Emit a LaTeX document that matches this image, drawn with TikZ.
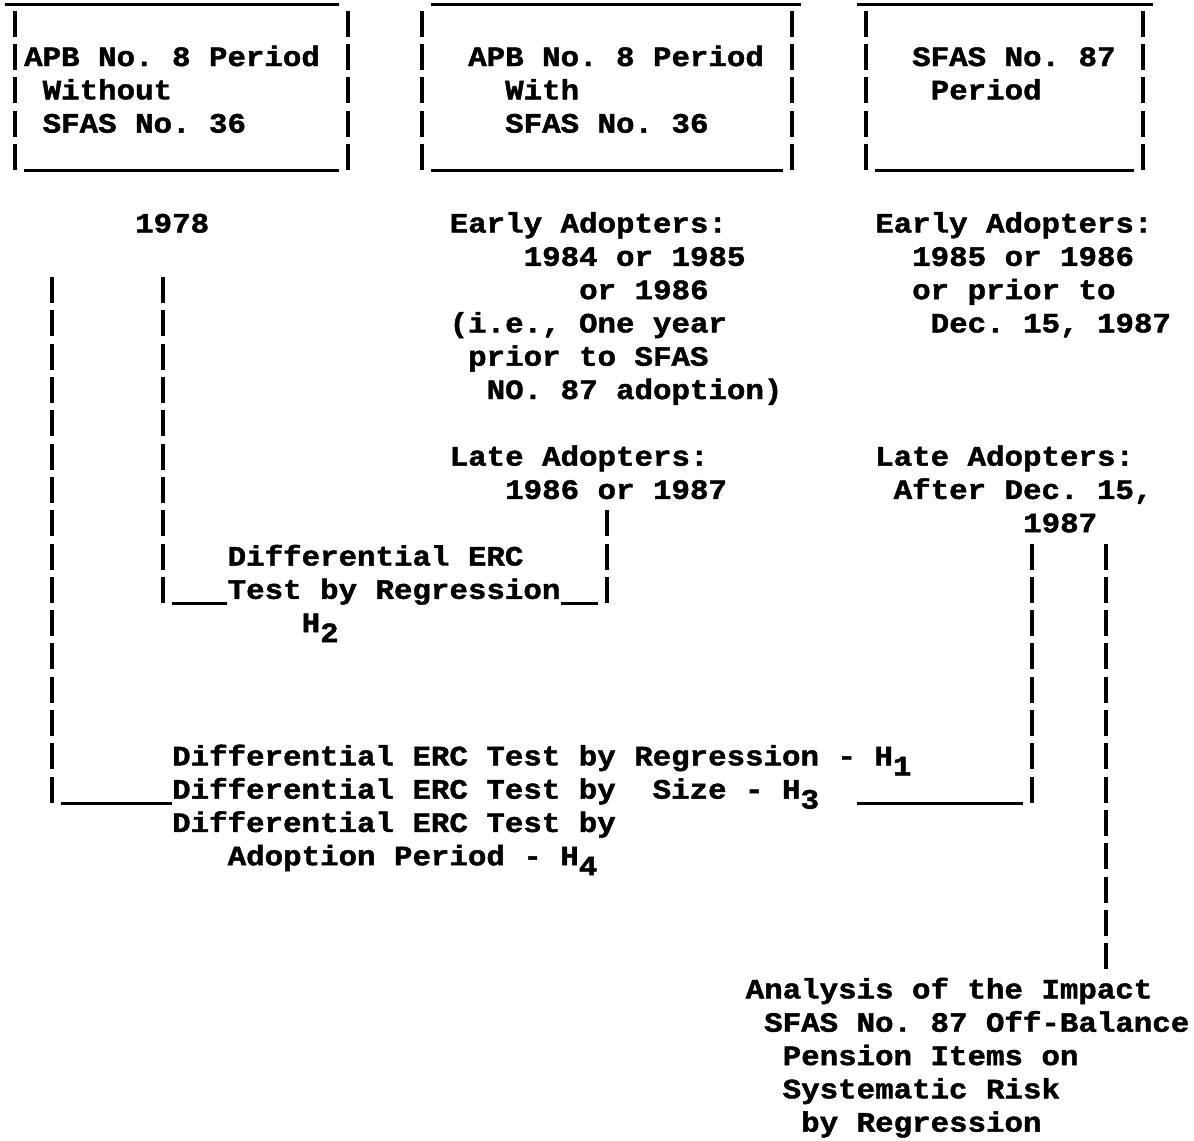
\documentclass[tikz,border=0pt]{standalone}
\usepackage{fontspec}
\setmainfont{Liberation Mono}[FakeStretch=1.1,BoldFeatures={FakeBold=1.6}]
\newcommand{\hsub}[1]{\raisebox{-10pt}{#1}}

\begin{document}
\begin{tikzpicture}[
  x=18.5pt,y=-33.3pt,
  typed/.style={anchor=base west,inner sep=0pt,yshift=-9pt,
    font=\fontsize{28pt}{33pt}\selectfont\bfseries\frenchspacing},
  bar/.style={draw=black,line width=3.8pt,dash pattern=on 26pt off 7.3pt},
  rule/.style={draw=black,line width=3pt},
]
  \useasboundingbox (-1.297,-1.712) rectangle (63.243,32.523);

  % period boxes: left bar/right bar/top from-to/bottom from-to (columns)
  \foreach \l/\r/\ta/\tb/\ba/\bb in {-1/17/-1/17/0/17,21/41/22/42/22/41,45/60/45/61/46/60}{
    \draw[rule] (\ta,-1.58) -- (\tb,-1.58);
    \draw[rule] (\ba,3.42) -- (\bb,3.42);
    \draw[bar] (\l+.5,-1.39) -- (\l+.5,3.39);
    \draw[bar] (\r+.5,-1.39) -- (\r+.5,3.39);
  }
  \node[typed] (apbA1) at (0,0) {APB No. 8 Period};
  \node[typed] (apbA2) at (1,1) {Without};
  \node[typed] (apbA3) at (1,2) {SFAS No. 36};
  \node[typed] (apbB1) at (24,0) {APB No. 8 Period};
  \node[typed] (apbB2) at (26,1) {With};
  \node[typed] (apbB3) at (26,2) {SFAS No. 36};
  \node[typed] (sfas1) at (48,0) {SFAS No. 87};
  \node[typed] (sfas2) at (49,1) {Period};

  % dates
  \node[typed] (yr) at (6,5) {1978};
  \node[typed] (midE1) at (23,5) {Early Adopters:};
  \node[typed] (midE2) at (27,6) {1984 or 1985};
  \node[typed] (midE3) at (30,7) {or 1986};
  \node[typed] (midE4) at (23,8) {(i.e., One year};
  \node[typed] (midE5) at (24,9) {prior to SFAS};
  \node[typed] (midE6) at (25,10) {NO. 87 adoption)};
  \node[typed] (midL1) at (23,12) {Late Adopters:};
  \node[typed] (midL2) at (26,13) {1986 or 1987};
  \node[typed] (rgtE1) at (46,5) {Early Adopters:};
  \node[typed] (rgtE2) at (48,6) {1985 or 1986};
  \node[typed] (rgtE3) at (48,7) {or prior to};
  \node[typed] (rgtE4) at (49,8) {Dec. 15, 1987};
  \node[typed] (rgtL1) at (46,12) {Late Adopters:};
  \node[typed] (rgtL2) at (47,13) {After Dec. 15,};
  \node[typed] (rgtL3) at (54,14) {1987};

  % tests
  \node[typed] (dif2) at (11,15) {Differential ERC};
  \node[typed] (tbr) at (11,16) {Test by Regression};
  \node[typed] (h2) at (15,17) {H\hsub{2}};
  \node[typed] (h1) at (8,21) {Differential ERC Test by Regression - H\hsub{1}};
  \node[typed] (h3) at (8,22) {Differential ERC Test by~~Size - H\hsub{3}};
  \node[typed] (h4a) at (8,23) {Differential ERC Test by};
  \node[typed] (h4b) at (11,24) {Adoption Period - H\hsub{4}};
  \node[typed] (ana1) at (39,28) {Analysis of the Impact};
  \node[typed] (ana2) at (40,29) {SFAS No. 87 Off-Balance};
  \node[typed] (ana3) at (41,30) {Pension Items on};
  \node[typed] (ana4) at (41,31) {Systematic Risk};
  \node[typed] (ana5) at (42,32) {by Regression};

  % brackets
  \coordinate (lTop) at (1.5,6.61);
  \coordinate (lBot) at (1.5,22.42);
  \draw[bar] (lTop) -- (lBot);
  \draw[rule] ([xshift=9.25pt]lBot) -- (h3.west |- lBot);

  \coordinate (h2lTop) at (7.5,6.61);
  \coordinate (h2lBot) at (7.5,16.42);
  \draw[bar] (h2lTop) -- (h2lBot);
  \draw[rule] ([xshift=9.25pt]h2lBot) -- (tbr.west |- h2lBot);
  \coordinate (h2rTop) at (31.5,13.61);
  \coordinate (h2rBot) at (31.5,16.42);
  \draw[bar] (h2rTop) -- (h2rBot);
  \draw[rule] (tbr.east |- h2rBot) -- ([xshift=-9.25pt]h2rBot);

  \coordinate (rEnd) at (45,22.42);
  \coordinate (rTop) at (54.5,14.61);
  \coordinate (rBot) at (54.5,22.42);
  \draw[bar] (rTop) -- (rBot);
  \draw[rule] (rEnd) -- ([xshift=-9.25pt]rBot);

  \coordinate (aTop) at (58.5,14.61);
  \coordinate (aBot) at (58.5,27.39);
  \draw[bar] (aTop) -- (aBot);
\end{tikzpicture}
\end{document}
